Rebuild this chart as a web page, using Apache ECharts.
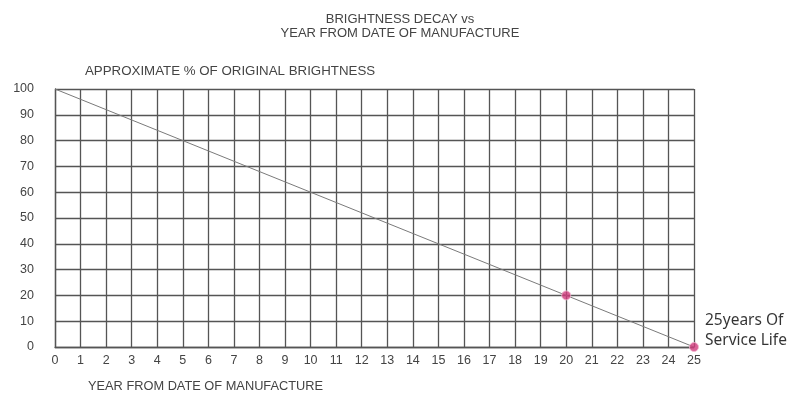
<!DOCTYPE html>
<html>
<head>
<meta charset="utf-8">
<script src="https://cdn.jsdelivr.net/npm/echarts@6/dist/echarts.min.js"></script>
<style>
  html, body { margin: 0; padding: 0; background: #fff; }
  #chart { width: 800px; height: 413px; }
</style>
</head>
<body>
<div id="chart"></div>
<script>
// decay line end points
var years = [0, 25]
var brightness = [100, 0]
// highlighted points
var markYears = [20, 25]
var markValues = [20, 0]

var lineData = years.map(function(y, i) { return [y, brightness[i]] })
var dotData = markYears.map(function(y, i) {
  var item = { value: [y, markValues[i]] }
  if (i === markYears.length - 1) {
    item.label = {
      show: true,
      position: 'right',
      offset: [1, -16],
      formatter: '25years Of\nService Life',
      fontFamily: 'Noto Sans',
      fontSize: 15.5,
      lineHeight: 20,
      color: '#000',
      align: 'left'
    }
  }
  return item
})

var gridColor = '#555'
var textColor = '#444'
var font = 'Liberation Sans, Arial, sans-serif'

var chart = echarts.init(document.getElementById('chart'))
chart.setOption({
  animation: false,
  backgroundColor: '#fff',
  title: [{
    text: 'BRIGHTNESS DECAY vs\nYEAR FROM DATE OF MANUFACTURE',
    left: 'center',
    top: 7,
    textStyle: { fontFamily: font, fontSize: 13, fontWeight: 'normal', color: textColor, lineHeight: 14, align: 'center' }
  }, {
    text: 'APPROXIMATE % OF ORIGINAL BRIGHTNESS',
    left: 80,
    top: 60,
    textStyle: { fontFamily: font, fontSize: 13.3, fontWeight: 'normal', color: textColor }
  }, {
    text: 'YEAR FROM DATE OF MANUFACTURE',
    left: 83,
    top: 375,
    textStyle: { fontFamily: font, fontSize: 12.8, fontWeight: 'normal', color: textColor }
  }],
  grid: { left: 55, right: 106, top: 89, bottom: 66 },
  xAxis: {
    type: 'value',
    min: 0,
    max: 25,
    interval: 1,
    axisLine: { show: true, lineStyle: { color: gridColor, width: 1.3 } },
    axisTick: { show: false },
    axisLabel: { margin: 7, fontFamily: font, fontSize: 12.5, color: textColor },
    splitLine: { show: true, lineStyle: { color: gridColor, width: 1.3 } }
  },
  yAxis: {
    type: 'value',
    min: 0,
    max: 100,
    interval: 10,
    axisLine: { show: true, lineStyle: { color: gridColor, width: 1.3 } },
    axisTick: { show: false },
    axisLabel: { margin: 21, fontFamily: font, fontSize: 12.5, color: textColor },
    splitLine: { show: true, lineStyle: { color: gridColor, width: 1.3 } }
  },
  series: [{
    type: 'line',
    data: lineData,
    showSymbol: false,
    lineStyle: { color: '#7a7a7a', width: 1 },
    z: 3
  }, {
    type: 'scatter',
    data: dotData,
    symbolSize: 9,
    itemStyle: { color: '#d13b7d', borderColor: '#f2b6cf', borderWidth: 1 },
    z: 4
  }]
})
</script>
</body>
</html>
